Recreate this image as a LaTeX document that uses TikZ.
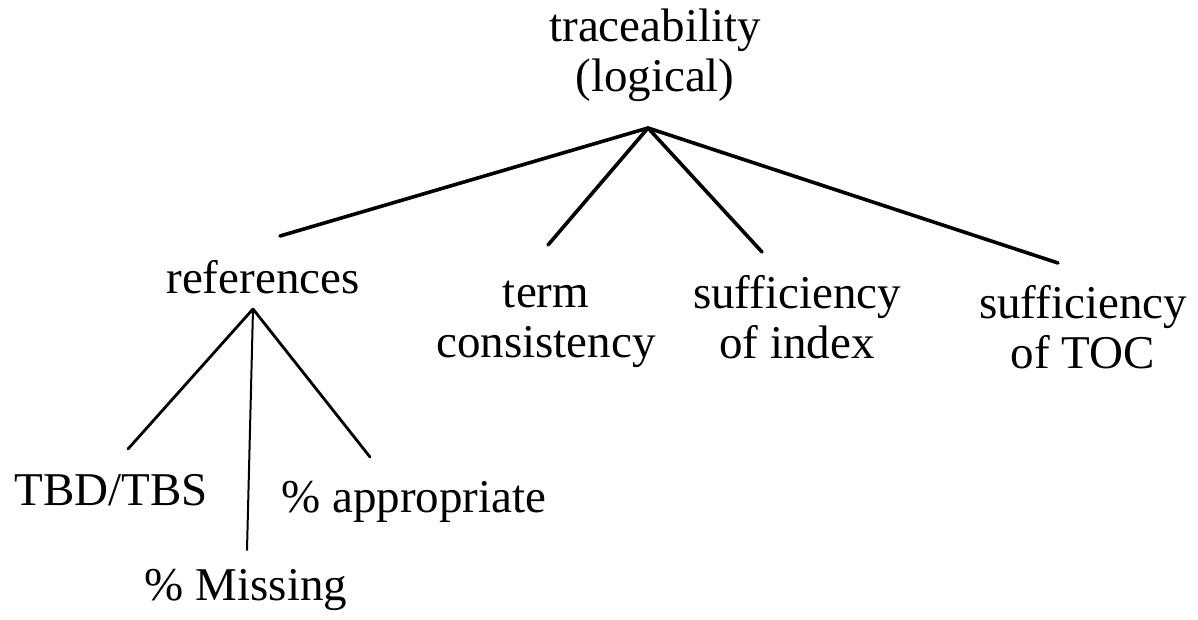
\documentclass[tikz,border=0pt]{standalone}
\usepackage{fontspec}
\setmainfont{Liberation Serif}
\tikzset{
  lbl/.style={inner sep=0pt, anchor=base, font=\fontsize{47}{50}\selectfont},
  mainedge/.style={line width=3.6pt, line cap=round},
  subedge/.style={line width=2.8pt, line cap=round},
  stemedge/.style={line width=2pt, line cap=round},
}
\newcommand{\twolines}[2]{\begin{tabular}[t]{@{}c@{}}#1\\#2\end{tabular}}
\begin{document}
\begin{tikzpicture}[x=1pt, y=-1pt]
  \useasboundingbox (0,0) rectangle (1198,620);

  % root
  \node[lbl] (root) at (655,42) {\twolines{traceability}{(logical)}};
  \coordinate (rootjoin) at (648,128);

  % first level
  \node[lbl] (refs) at (263,293) {references};
  \node[lbl] (term) at (546,307) {\twolines{term}{consistency}};
  \node[lbl] (index) at (797,308) {\twolines{sufficiency}{of index}};
  \node[lbl] (toc) at (1083,318) {\twolines{sufficiency}{of TOC}};

  \coordinate (refsend) at (280,236);
  \coordinate (termend) at (548,245);
  \coordinate (indexend) at (762,252);
  \coordinate (tocend) at (1058,263);

  \draw[mainedge] (rootjoin) -- (refsend);
  \draw[mainedge] (rootjoin) -- (termend);
  \draw[mainedge] (rootjoin) -- (indexend);
  \draw[mainedge] (rootjoin) -- (tocend);

  % second level under references
  \coordinate (refsjoin) at (253,309);
  \node[lbl] (tbd) at (111,505) {TBD/TBS};
  \node[lbl] (appr) at (414,512) {\% appropriate};
  \node[lbl] (miss) at (246,600) {\% Missing};

  \coordinate (tbdend) at (128,449);
  \coordinate (apprend) at (370,457);
  \coordinate (missend) at (247,550);

  \draw[subedge] (refsjoin) -- (tbdend);
  \draw[subedge] (refsjoin) -- (apprend);
  \draw[stemedge] (refsjoin) -- (missend);
\end{tikzpicture}
\end{document}
